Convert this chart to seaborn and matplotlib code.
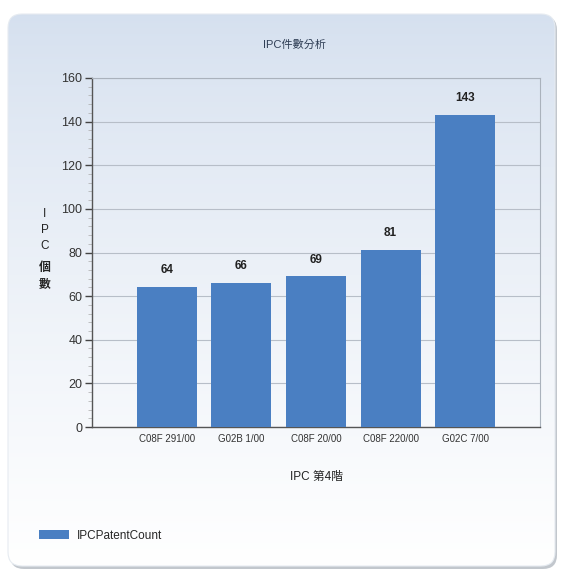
import numpy as np
import pandas as pd
import matplotlib
matplotlib.use("Agg")
import matplotlib.pyplot as plt
import seaborn as sns
from matplotlib.patches import FancyBboxPatch, Patch
from matplotlib.ticker import MultipleLocator

categories = ["C08F 291/00", "G02B 1/00", "C08F 20/00", "C08F 220/00", "G02C 7/00"]
counts = [64, 66, 69, 81, 143]
series_name = "IPCPatentCount"
title = "IPC件數分析"
xlabel = "IPC 第4階"
ylabel_chars = ["I", "P", "C", "個", "數"]

sns.set_style("white")
plt.rcParams['font.family'] = ['Liberation Sans', 'Noto Sans CJK TC', 'DejaVu Sans']

W, H = 561, 572
fig = plt.figure(figsize=(W / 100, H / 100), dpi=100)
fig.patch.set_facecolor("white")

# background panel with gradient and shadow
bg = fig.add_axes([0, 0, 1, 1], zorder=-10)
bg.set_xlim(0, W)
bg.set_ylim(H, 0)
bg.axis("off")
shadow = FancyBboxPatch((10, 16), 547, 553, boxstyle="round,pad=0,rounding_size=14",
                        facecolor="#9aa3ad", edgecolor="none", alpha=0.6)
bg.add_patch(shadow)
panel = FancyBboxPatch((8, 14), 547, 552, boxstyle="round,pad=0,rounding_size=14",
                       facecolor="none", edgecolor="#e6ebf1", linewidth=0.8)
grad = np.linspace(0, 1, 256).reshape(-1, 1)
top = np.array([0.835, 0.878, 0.937])
bot = np.array([1.0, 1.0, 1.0])
img = top[None, None, :] * (1 - grad[:, :, None] ** 0.8) + bot[None, None, :] * (grad[:, :, None] ** 0.8)
im = bg.imshow(img, extent=(8, 555, 566, 14), aspect="auto", zorder=1)
bg.add_patch(panel)
im.set_clip_path(panel)

ax = fig.add_axes([92 / W, 1 - 427 / H, (540 - 92) / W, (427 - 78) / H])
ax.set_facecolor("none")
df = pd.DataFrame({"category": categories, "count": counts})
sns.barplot(data=df, x="category", y="count", color="#4a7fc2", width=0.8,
            saturation=1, ax=ax, zorder=3, linewidth=0, edgecolor="none")
ax.set_xlim(-1, 5)
ax.set_ylim(0, 160)
ax.yaxis.set_major_locator(MultipleLocator(20))
ax.yaxis.set_minor_locator(MultipleLocator(4))
ax.grid(axis="y", which="major", color="#b7bec8", linewidth=0.8, zorder=0)
ax.set_axisbelow(True)
ax.tick_params(axis="y", which="major", direction="out", length=5, width=1, color="#444444",
               labelsize=9, labelcolor="#333333", pad=2, left=True)
ax.tick_params(axis="y", which="minor", direction="out", length=3, width=0.5, color="#aaaaaa", left=True)
ax.tick_params(axis="x", which="major", direction="in", length=5, width=1, color="#444444",
               labelsize=7, labelcolor="#333333", pad=5, bottom=True)
ax.set_xticks(range(len(categories)))
ax.set_xticklabels(categories)
for s in ["left", "bottom"]:
    ax.spines[s].set_color("#555555")
    ax.spines[s].set_linewidth(1.0)
for s in ["top", "right"]:
    ax.spines[s].set_visible(True)
    ax.spines[s].set_color("#aab2bc")
    ax.spines[s].set_linewidth(0.8)
ax.set_xlabel("")
ax.set_ylabel("")

for i, v in enumerate(counts):
    ax.text(i, v + 5, str(v), ha="center", va="bottom", fontsize=8.5, fontweight="bold",
            color="#222222")

fig.text(294 / W, 1 - 45 / H, title, ha="center", va="center", fontsize=8, color="#2f3e55")
fig.text(316 / W, 1 - 477 / H, xlabel, ha="center", va="center", fontsize=8.5, color="#222222")
ys = [214, 230, 246, 268, 284]
for ch, yy in zip(ylabel_chars, ys):
    fig.text(45 / W, 1 - yy / H, ch, ha="center", va="center", fontsize=8.5, color="#222222",
             fontweight="bold" if ch in ("個", "數") else "normal")

handles = [Patch(facecolor="#4a7fc2", edgecolor="none", label=series_name)]
fig.legend(handles=handles, loc="center left", bbox_to_anchor=(34 / W, 1 - 536 / H),
           frameon=False, fontsize=8.5, handlelength=2.6, handleheight=0.8,
           handletextpad=0.6, borderaxespad=0)

fig.savefig("out.png", dpi=100)
